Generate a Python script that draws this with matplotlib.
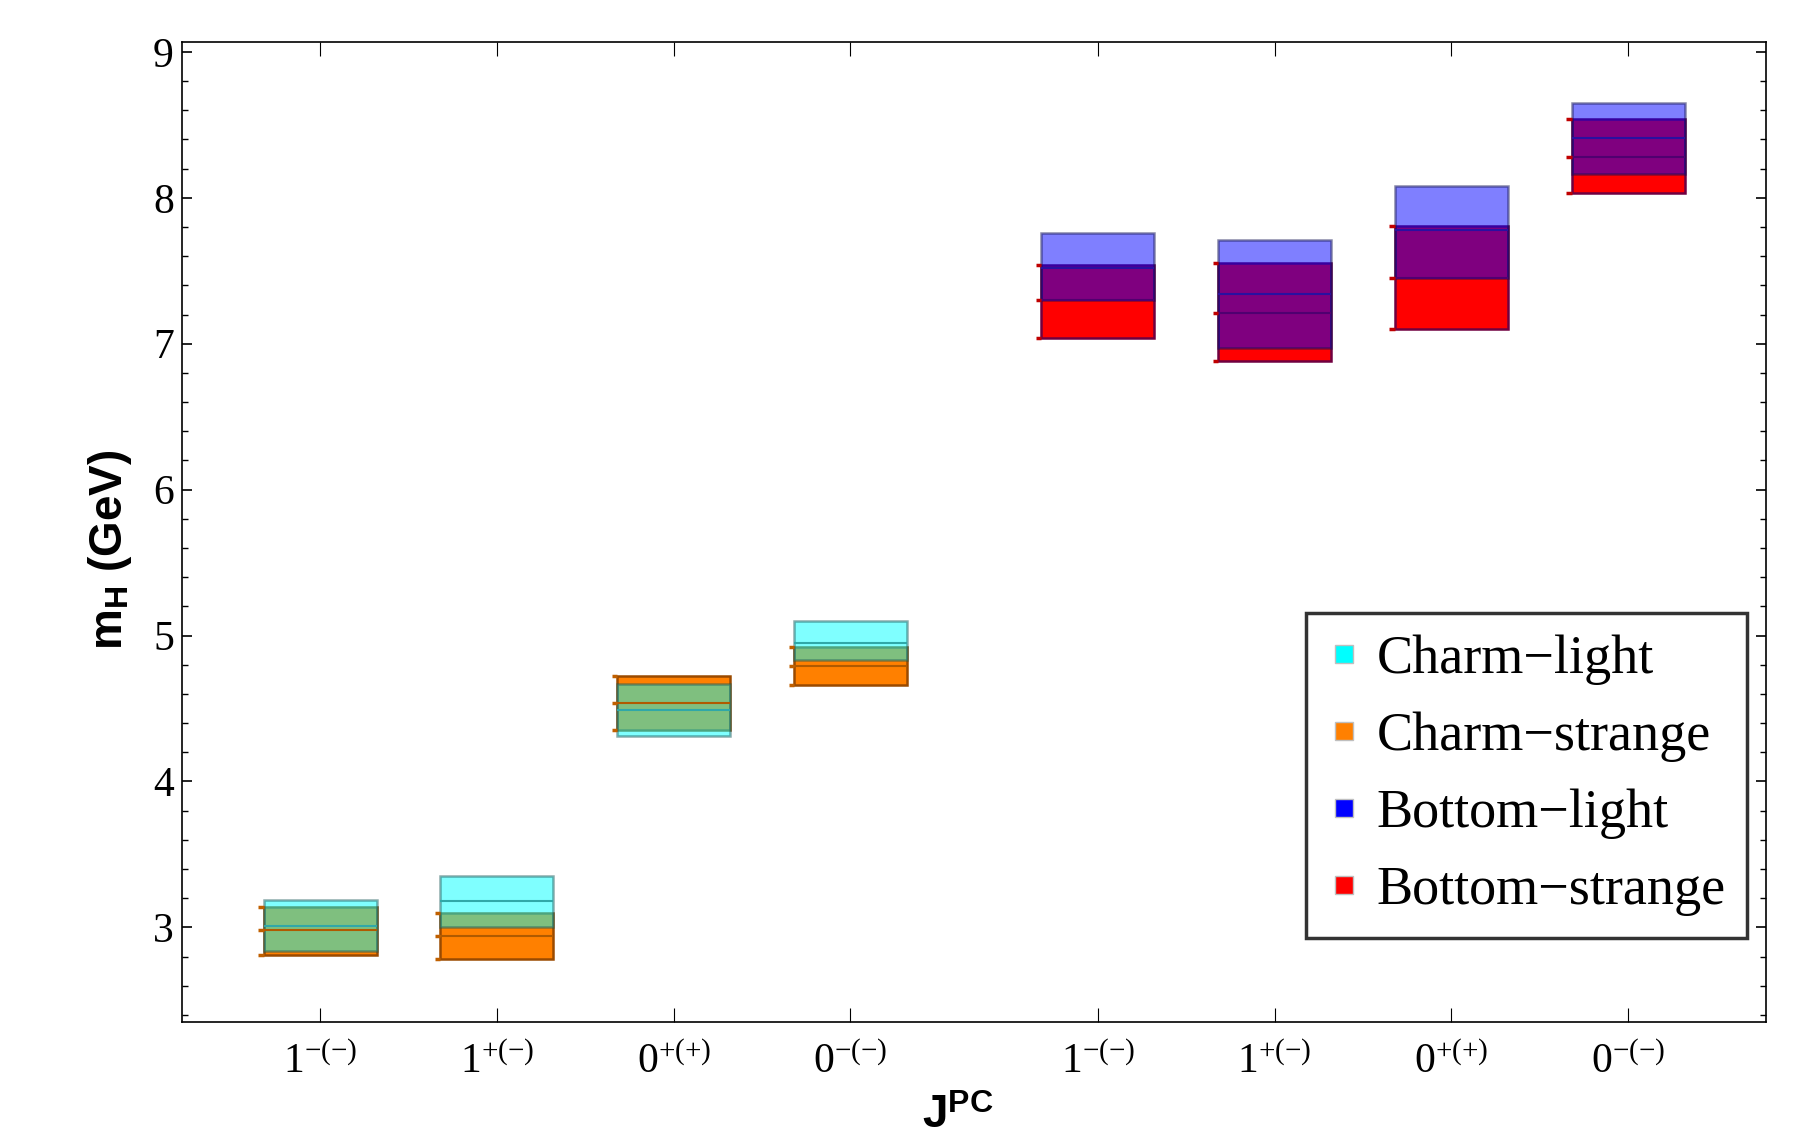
import numpy as np
import matplotlib
matplotlib.use('Agg')
import matplotlib.pyplot as plt
from matplotlib.lines import Line2D

plt.rcParams['font.family'] = ['Liberation Serif', 'DejaVu Serif']
plt.rcParams['mathtext.fontset'] = 'custom'
plt.rcParams['mathtext.rm'] = 'Liberation Serif'
plt.rcParams['mathtext.it'] = 'Liberation Serif:italic'
plt.rcParams['mathtext.bf'] = 'Liberation Sans:bold'

# 量子数标签 (charm 组 + bottom 组)
jpc_labels = [r'$1^{-(-)}$', r'$1^{+(-)}$', r'$0^{+(+)}$', r'$0^{-(-)}$']

# charm 组: 下限 / 中心值 / 上限 (GeV)
charm_light_low = [2.84, 3.00, 4.31, 4.83]
charm_light_mid = [3.01, 3.18, 4.49, 4.95]
charm_light_high = [3.19, 3.35, 4.67, 5.10]
charm_strange_low = [2.81, 2.78, 4.35, 4.66]
charm_strange_mid = [2.98, 2.94, 4.54, 4.79]
charm_strange_high = [3.14, 3.10, 4.72, 4.92]

# bottom 组
bottom_light_low = [7.30, 6.97, 7.45, 8.16]
bottom_light_mid = [7.52, 7.34, 7.78, 8.41]
bottom_light_high = [7.76, 7.71, 8.08, 8.65]
bottom_strange_low = [7.04, 6.88, 7.10, 8.03]
bottom_strange_mid = [7.30, 7.21, 7.45, 8.28]
bottom_strange_high = [7.54, 7.55, 7.81, 8.54]

series_names = ['Charm\u2212light', 'Charm\u2212strange', 'Bottom\u2212light', 'Bottom\u2212strange']
series_colors = ['#00FFFF', '#FF8000', '#0000FF', '#FF0000']

charm_x = np.arange(1, 5)
bottom_x = charm_x + 4.4
w = 0.64

fig = plt.figure(figsize=(18.15, 11.32), dpi=100)
ax = fig.add_axes([0.1004, 0.0974, 0.8726, 0.8658])


def draw_boxes(x, low, mid, high, face, edge, midcol, alpha, tickcol=None):
    low = np.array(low)
    high = np.array(high)
    ax.bar(x, high - low, bottom=low, width=w, color=face, alpha=alpha,
           edgecolor=edge, linewidth=1.8, zorder=2)
    ax.hlines(mid, x - w / 2, x + w / 2, colors=midcol, linewidth=1.5, zorder=3)
    if tickcol is not None:
        # 左侧小刻度
        for arr in (low, mid, high):
            ax.hlines(arr, x - w / 2 - 0.03, x - w / 2, colors=tickcol, linewidth=2.5, zorder=3)


# 不透明的 strange, 半透明的 light 叠在上面
draw_boxes(charm_x, charm_strange_low, charm_strange_mid, charm_strange_high,
           series_colors[1], '#9a4a00', '#b05a00', 1.0, tickcol='#c06000')
draw_boxes(charm_x, charm_light_low, charm_light_mid, charm_light_high,
           series_colors[0], '#1a5a5a', '#30a8a8', 0.5)
draw_boxes(bottom_x, bottom_strange_low, bottom_strange_mid, bottom_strange_high,
           series_colors[3], '#700040', '#500070', 1.0, tickcol='#c00000')
draw_boxes(bottom_x, bottom_light_low, bottom_light_mid, bottom_light_high,
           series_colors[2], '#101050', '#2a10a0', 0.5)

ax.set_xlim(0.22, 9.18)
ax.set_ylim(2.353, 9.07)
ax.set_xticks(np.concatenate([charm_x, bottom_x]))
ax.set_xticklabels(jpc_labels + jpc_labels, fontsize=30)
ax.set_yticks(np.arange(3, 10))
ax.set_yticks(np.arange(2.4, 9.05, 0.2), minor=True)
ax.tick_params(axis='y', which='major', direction='in', length=7, width=1.2,
               labelsize=30, pad=6, right=True)
ax.tick_params(axis='y', which='minor', direction='in', length=4, width=1.0, right=True)
ax.tick_params(axis='x', which='major', direction='in', length=10, width=0.8,
               pad=16, top=True)
for sp in ax.spines.values():
    sp.set_linewidth(1.2)

fig.text(110 / 1815, 1 - 550 / 1132, r'$\mathbf{m}_\mathbf{H}$ (GeV)', rotation=90,
         ha='center', va='center', fontsize=33, family='Liberation Sans', weight='bold')
# 参考图里 x 轴标题本身就被下边缘截掉一部分
fig.text(958 / 1815, 1 - 1096 / 1132, r'$\mathbf{J}^\mathbf{PC}$', ha='center', va='top',
         fontsize=33)

handles = [Line2D([], [], marker='s', ls='', markersize=13, markerfacecolor=c,
                  markeredgecolor='0.75') for c in series_colors]
leg = ax.legend(handles, series_names, loc='upper left',
                bbox_to_anchor=(1306 / 1815, 1 - 613 / 1132), bbox_transform=fig.transFigure,
                fontsize=39, frameon=True, fancybox=False, handlelength=0.6,
                handletextpad=0.3, labelspacing=0.49, borderpad=0.4, borderaxespad=0)
leg.get_frame().set_edgecolor('black')
leg.get_frame().set_linewidth(2.5)

fig.savefig('out.png', dpi=100)
